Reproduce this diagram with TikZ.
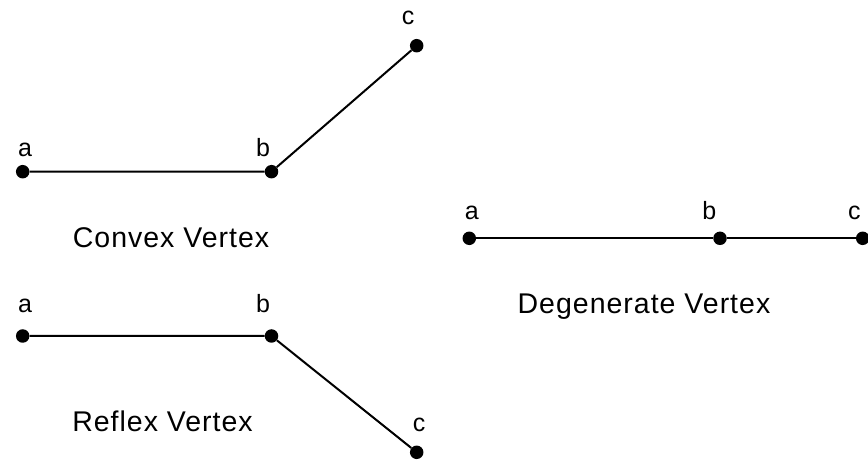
\documentclass[tikz,border=0pt]{standalone}
\usepackage{fontspec}
\setmainfont{Liberation Sans}
\newfontfamily\capfont[LetterSpace=3.5]{Liberation Sans}
\begin{document}
\begin{tikzpicture}[x=1pt,y=-1pt,
  pt/.style={circle,fill=black,inner sep=0pt,minimum size=13.5pt},
  edge/.style={line width=2pt,black},
  lbl/.style={anchor=base,inner sep=0pt,font=\fontsize{25}{25}\selectfont},
  captext/.style={anchor=base,inner sep=0pt,font=\capfont\fontsize{28.5}{28.5}\selectfont}]
\useasboundingbox (0,0) rectangle (868,462);
% Convex
\node[pt] (ca) at (22.7,171.7) {};
\node[pt] (cb) at (271.5,171.7) {};
\node[pt] (cc) at (416.7,45.7) {};
\draw[edge] (ca) -- (cb) -- (cc);
\node[lbl] (cla) at (25,157) {a};
\node[lbl] (clb) at (263,157) {b};
\node[lbl] (clc) at (408,25) {c};
\node[captext] (ccap) at (171,248) {Convex Vertex};
% Reflex
\node[pt] (ra) at (22.7,336) {};
\node[pt] (rb) at (271.5,336) {};
\node[pt] (rc) at (416.7,452.3) {};
\draw[edge] (ra) -- (rb) -- (rc);
\node[lbl] (rla) at (25,313) {a};
\node[lbl] (rlb) at (263,313) {b};
\node[lbl] (rlc) at (419,431.5) {c};
\node[captext] (rcap) at (162.5,431.5) {Reflex Vertex};
% Degenerate
\node[pt] (da) at (469.3,238.3) {};
\node[pt] (db) at (720,238.3) {};
\node[pt] (dc) at (862.7,238.3) {};
\draw[edge] (da) -- (db) -- (dc);
\node[lbl] (dla) at (471.7,220) {a};
\node[lbl] (dlb) at (709.3,220) {b};
\node[lbl] (dlc) at (854.3,220) {c};
\node[captext] (dcap) at (644,313.3) {Degenerate Vertex};
\end{tikzpicture}
\end{document}
